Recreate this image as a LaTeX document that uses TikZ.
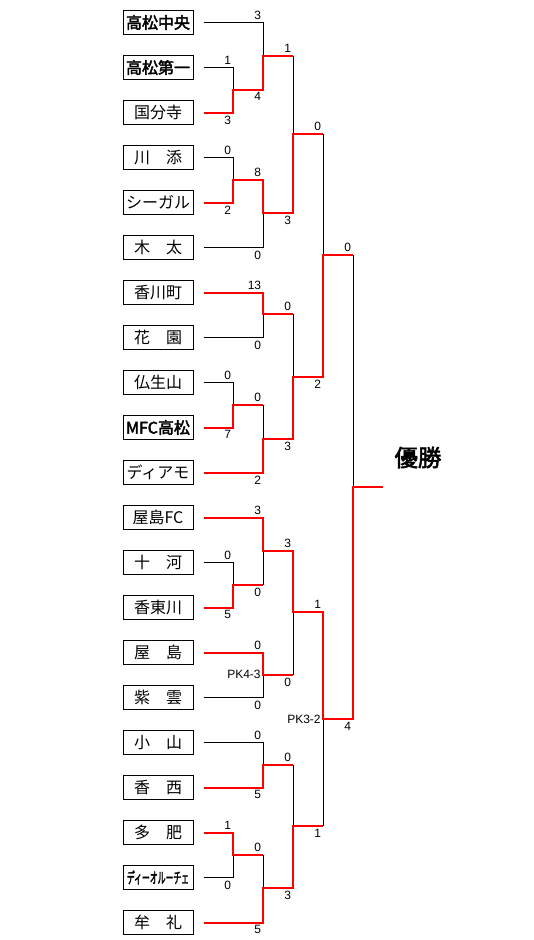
\documentclass[tikz,border=0pt]{standalone}
\usepackage{fontspec}
\usepackage{graphicx}
\setmainfont{Liberation Sans}
\newfontfamily\jpf{Noto Sans CJK JP}[AutoFakeBold=2.5]
\begin{document}
\begin{tikzpicture}[x=0.75pt,y=-0.75pt,
  team/.style={draw, line width=0.75pt, minimum width=52.5pt, minimum height=18pt, inner sep=0pt, font=\jpf\fontsize{12}{14}\selectfont},
  lose/.style={line width=0.75pt, black},
  win/.style={line width=1.5pt, red, line join=miter},
  sc/.style={inner sep=0pt, font=\fontsize{9}{10}\selectfont},
  sctop/.style={sc, anchor=south east, xshift=-1.2pt, yshift=2.2pt},
  scbot/.style={sc, anchor=north east, xshift=-1.2pt, yshift=-2.2pt},
  pk/.style={sc, anchor=east, xshift=-1.6pt},
  title/.style={inner sep=0pt, font=\jpf\bfseries\fontsize{17.5}{20}\selectfont}
]
\useasboundingbox (0,0) rectangle (534,940);

% teams
\node[team] (t1) at (158,22.5) {\bfseries 高松中央};
\node[team] (t2) at (158,67.5) {\bfseries 高松第一};
\node[team] (t3) at (158,112.5) {国分寺};
\node[team] (t4) at (158,157.5) {川　添};
\node[team] (t5) at (158,202.5) {シーガル};
\node[team] (t6) at (158,247.5) {木　太};
\node[team] (t7) at (158,292.5) {香川町};
\node[team] (t8) at (158,337.5) {花　園};
\node[team] (t9) at (158,382.5) {仏生山};
\node[team] (t10) at (158,427.5) {\bfseries MFC高松};
\node[team] (t11) at (158,472.5) {ディアモ};
\node[team] (t12) at (158,517.5) {屋島FC};
\node[team] (t13) at (158,562.5) {十　河};
\node[team] (t14) at (158,607.5) {香東川};
\node[team] (t15) at (158,652.5) {屋　島};
\node[team] (t16) at (158,697.5) {紫　雲};
\node[team] (t17) at (158,742.5) {小　山};
\node[team] (t18) at (158,787.5) {香　西};
\node[team] (t19) at (158,832.5) {多　肥};
\node[team] (t20) at (158,877.5) {\scalebox{0.49}[0.95]{\bfseries ディーオルーチェ}};
\node[team] (t21) at (158,922.5) {牟　礼};

\foreach \i in {1,...,21} {\coordinate (p\i) at ([xshift=7.5pt]t\i.east);}

% match points
\coordinate (m1) at (233,89.5);
\coordinate (m2) at (263,56);
\coordinate (m3) at (233,180);
\coordinate (m4) at (263,213);
\coordinate (m5) at (293,134);
\coordinate (m6) at (263,314);
\coordinate (m7) at (233,404.5);
\coordinate (m8) at (263,439);
\coordinate (m9) at (293,376.5);
\coordinate (m10) at (323,255);
\coordinate (m11) at (233,585);
\coordinate (m12) at (263,550.5);
\coordinate (m13) at (263,674.5);
\coordinate (m14) at (293,612);
\coordinate (m15) at (263,764.5);
\coordinate (m16) at (233,854.5);
\coordinate (m17) at (263,888);
\coordinate (m18) at (293,826);
\coordinate (m19) at (323,719);
\coordinate (m20) at (353,486.5);
\coordinate (champ) at (383,486.5);

% losing lines
\draw[lose] (p1) -| (m2);
\draw[lose] (p2) -| (m1);
\draw[lose] (p4) -| (m3);
\draw[lose] (p6) -| (m4);
\draw[lose] (p8) -| (m6);
\draw[lose] (p9) -| (m7);
\draw[lose] (p13) -| (m11);
\draw[lose] (p16) -| (m13);
\draw[lose] (p17) -| (m15);
\draw[lose] (p20) -| (m16);
\draw[lose] (m2 -| m5) -- (m5);
\draw[lose] (m6 -| m9) -- (m9);
\draw[lose] (m7 -| m8) -- (m8);
\draw[lose] (m5 -| m10) -- (m10);
\draw[lose] (m10 -| m20) -- (m20);
\draw[lose] (m11 -| m12) -- (m12);
\draw[lose] (m13 -| m14) -- (m14);
\draw[lose] (m15 -| m18) -- (m18);
\draw[lose] (m16 -| m17) -- (m17);
\draw[lose] (m18 -| m19) -- (m19);

% winning paths
\draw[win] (p3) -| (m1) -| (m2) -- (m2 -| m5);
\draw[win] (p5) -| (m3) -| (m4) -| (m5) -- (m5 -| m10);
\draw[win] (p7) -| (m6) -- (m6 -| m9);
\draw[win] (p10) -| (m7) -- (m7 -| m8);
\draw[win] (p11) -| (m8) -| (m9) -| (m10) -- (m10 -| m20);
\draw[win] (p14) -| (m11) -- (m11 -| m12);
\draw[win] (p15) -| (m13) -- (m13 -| m14);
\draw[win] (p18) -| (m15) -- (m15 -| m18);
\draw[win] (p19) -| (m16) -- (m16 -| m17);
\draw[win] (p21) -| (m17) -| (m18) -- (m18 -| m19);
\draw[win] (p12) -| (m12) -| (m14) -| (m19) -| (m20) -- (champ);

% scores
\node[sctop] at (m1 |- p2) {1};   \node[scbot] at (m1 |- p3) {3};
\node[sctop] at (m2 |- p1) {3};   \node[scbot] at (m2 |- m1) {4};
\node[sctop] at (m3 |- p4) {0};   \node[scbot] at (m3 |- p5) {2};
\node[sctop] at (m4 |- m3) {8};   \node[scbot] at (m4 |- p6) {0};
\node[sctop] at (m5 |- m2) {1};   \node[scbot] at (m5 |- m4) {3};
\node[sctop] at (m6 |- p7) {13};  \node[scbot] at (m6 |- p8) {0};
\node[sctop] at (m7 |- p9) {0};   \node[scbot] at (m7 |- p10) {7};
\node[sctop] at (m8 |- m7) {0};   \node[scbot] at (m8 |- p11) {2};
\node[sctop] at (m9 |- m6) {0};   \node[scbot] at (m9 |- m8) {3};
\node[sctop] at (m10 |- m5) {0};  \node[scbot] at (m10 |- m9) {2};
\node[sctop] at (m11 |- p13) {0}; \node[scbot] at (m11 |- p14) {5};
\node[sctop] at (m12 |- p12) {3}; \node[scbot] at (m12 |- m11) {0};
\node[sctop] at (m13 |- p15) {0}; \node[scbot] at (m13 |- p16) {0};
\node[sctop] at (m14 |- m12) {3}; \node[scbot] at (m14 |- m13) {0};
\node[sctop] at (m15 |- p17) {0}; \node[scbot] at (m15 |- p18) {5};
\node[sctop] at (m16 |- p19) {1}; \node[scbot] at (m16 |- p20) {0};
\node[sctop] at (m17 |- m16) {0}; \node[scbot] at (m17 |- p21) {5};
\node[sctop] at (m18 |- m15) {0}; \node[scbot] at (m18 |- m17) {3};
\node[sctop] at (m19 |- m14) {1}; \node[scbot] at (m19 |- m18) {1};
\node[sctop] at (m20 |- m10) {0}; \node[scbot] at (m20 |- m19) {4};
\node[pk] (pk1) at (m13) {PK4-3};
\node[pk] (pk2) at (m19) {PK3-2};

\node[title] (champion) at (418,457.5) {優勝};
\end{tikzpicture}
\end{document}
